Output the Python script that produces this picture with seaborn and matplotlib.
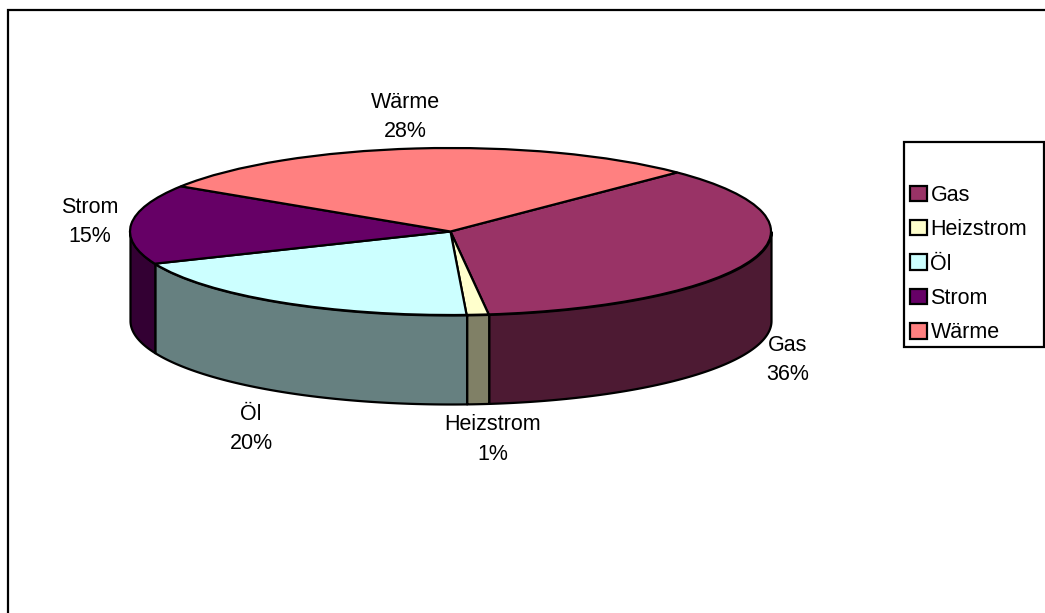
import numpy as np
import matplotlib
matplotlib.use("Agg")
import matplotlib.pyplot as plt
from matplotlib.patches import Rectangle
import seaborn as sns

categories = ["Gas", "Heizstrom", "Öl", "Strom", "Wärme"]
values = [35.6, 1.1, 19.5, 15.4, 28.4]
top_colors = ["#993366", "#FFFFCC", "#CCFFFF", "#660066", "#FF8080"]
side_colors = ["#4D1A33", "#808066", "#668080", "#330033", "#804040"]

W, H = 1045, 613
CX, CY, RX, RY, DEPTH = 450.5, 231.5, 320.5, 83.5, 89.0
START = 45.0
# label centres in pixels
label_pos = [(787.5, 360), (493, 439.5), (251, 429), (90, 222), (405, 116.5)]

sns.set_theme(style="white")
plt.rcParams["font.family"] = ["Liberation Sans", "DejaVu Sans"]
FS = 15.5
LW = 1.6

fig = plt.figure(figsize=(W / 100, H / 100), dpi=100, facecolor="white")
ax = fig.add_axes([0, 0, 1, 1])

wedges, _ = ax.pie(values, colors=top_colors, startangle=START, counterclock=False,
                   radius=1, wedgeprops=dict(edgecolor="black", linewidth=LW))
ax.set_aspect("auto")
ax.set_xlim(-CX / RX, (W - CX) / RX)
ax.set_ylim((CY - H) / RY, CY / RY)
ax.set_axis_off()

# front wall of the cylinder, from the same values
d = DEPTH / RY
edges = START - 3.6 * np.cumsum([0] + values)
for a0, a1, col in zip(edges[:-1], edges[1:], side_colors):
    hi, lo = min(a0, 0.0), max(a1, -180.0)
    if hi <= lo:
        continue
    t = np.radians(np.linspace(lo, hi, 200))
    x, y = np.cos(t), np.sin(t)
    ax.fill_between(x, y, y - d, facecolor=col, edgecolor="black", linewidth=LW, zorder=0.5)

# outer chart frame, running off the right and bottom of the canvas
fig.add_artist(Rectangle((8 / W, -0.1), 1.1, 1.1 - 10 / H,
                         transform=fig.transFigure, fill=False, edgecolor="black", linewidth=LW))

for name, v, (px, py) in zip(categories, values, label_pos):
    fig.text(px / W, 1 - py / H, f"{name}\n{round(v):d}%", ha="center", va="center",
             fontsize=FS, color="black", linespacing=1.5)

# legend
fig.add_artist(Rectangle((904 / W, 1 - 347 / H), 140 / W, 205 / H, transform=fig.transFigure,
                         facecolor="white", edgecolor="black", linewidth=LW))
leg = fig.legend(wedges, categories, loc="upper left", bbox_to_anchor=(910 / W, 1 - 185 / H),
                 bbox_transform=fig.transFigure, frameon=False, fontsize=FS, borderpad=0,
                 borderaxespad=0, labelspacing=0.62, handlelength=0.8, handleheight=0.72,
                 handletextpad=0.15, labelcolor="black")
leg.set_zorder(5)

fig.savefig("out.png", dpi=100)
